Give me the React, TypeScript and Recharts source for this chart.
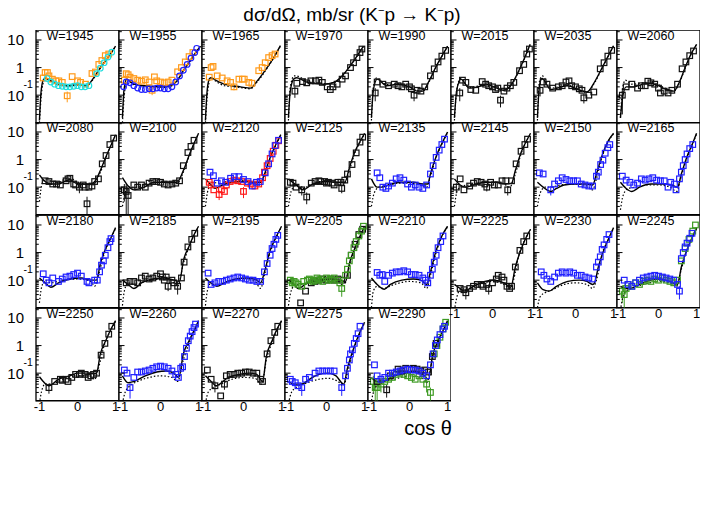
import { ComposedChart, Line, Scatter, XAxis, YAxis, ErrorBar, ReferenceArea } from "recharts";

// ---- data: [cos theta, dsigma/dOmega (mb/sr), error] ----
const solid1945 = [[-1, 0.012], [-0.96, 0.12], [-0.9, 0.35], [-0.84, 0.42], [-0.7, 0.33], [-0.5, 0.24], [-0.25, 0.22], [0, 0.24], [0.25, 0.22], [0.4, 0.38], [0.6, 1.0], [0.8, 2.3], [1, 6]];
const dot1945 = [[-1, 0.01], [-0.95, 0.1], [-0.88, 0.32], [-0.82, 0.38], [-0.7, 0.32], [-0.5, 0.23], [-0.25, 0.21], [0, 0.23], [0.25, 0.22], [0.4, 0.36], [0.6, 0.95], [0.8, 2.2], [1, 5.8]];
const orange1945 = [[-0.9, 0.42], [-0.85, 0.66], [-0.79, 0.66], [-0.75, 0.5], [-0.66, 0.38], [-0.57, 0.33], [-0.49, 0.33], [-0.4, 0.29], [-0.27, 0.095, 0.04], [-0.14, 0.47], [0, 0.33], [0.08, 0.29], [0.21, 0.25], [0.38, 0.61], [0.47, 0.69], [0.56, 1.3], [0.64, 1.8], [0.73, 2.7], [0.82, 3.1]];
const cyan1945 = [[-0.8, 0.4], [-0.7, 0.3], [-0.6, 0.25], [-0.5, 0.22], [-0.4, 0.21], [-0.3, 0.2], [-0.2, 0.2], [-0.1, 0.21], [0, 0.22], [0.1, 0.2], [0.2, 0.2], [0.3, 0.22], [0.5, 0.6], [0.6, 0.95], [0.7, 1.5], [0.8, 2.4], [0.9, 3.6]];

const solid1955 = [[-1, 0.015], [-0.96, 0.15], [-0.89, 0.38], [-0.8, 0.32], [-0.7, 0.25], [-0.43, 0.22], [0, 0.2], [0.26, 0.22], [0.43, 0.33], [0.6, 0.77], [0.78, 1.8], [0.96, 4.1], [1.05, 6]];
const dot1955 = [[-1, 0.01], [-0.95, 0.1], [-0.88, 0.33], [-0.8, 0.3], [-0.7, 0.24], [-0.43, 0.21], [0, 0.19], [0.26, 0.21], [0.43, 0.31], [0.6, 0.72], [0.78, 1.7], [0.96, 4], [1.05, 5.8]];
const orange1955 = [[-0.95, 0.35], [-0.9, 0.6], [-0.85, 0.55], [-0.8, 0.45], [-0.7, 0.4], [-0.6, 0.35], [-0.5, 0.32], [-0.4, 0.36], [-0.3, 0.3], [-0.22, 0.15, 0.05], [-0.16, 0.46], [-0.1, 0.33], [0, 0.3], [0.1, 0.28], [0.2, 0.3], [0.3, 0.35], [0.45, 0.7], [0.55, 1.0], [0.65, 1.6], [0.75, 2.5], [0.85, 3.5]];
const blue1955 = [[-0.97, 0.2], [-0.9, 0.3], [-0.8, 0.28], [-0.7, 0.22], [-0.6, 0.18], [-0.5, 0.16], [-0.4, 0.16], [-0.3, 0.17], [-0.2, 0.17], [-0.1, 0.18], [0, 0.18], [0.1, 0.17], [0.2, 0.17], [0.3, 0.2], [0.4, 0.3], [0.5, 0.5], [0.6, 0.8], [0.7, 1.3], [0.8, 2.2], [0.9, 3.5], [0.95, 5]];

const solid1965 = [[-1, 0.012], [-0.96, 0.12], [-0.9, 0.38], [-0.86, 0.43], [-0.7, 0.33], [-0.51, 0.25], [-0.08, 0.2], [0.18, 0.18], [0.36, 0.33], [0.62, 1.0], [0.8, 2.4], [0.97, 6.2]];
const dot1965 = [[-1, 0.01], [-0.95, 0.1], [-0.88, 0.36], [-0.84, 0.4], [-0.7, 0.3], [-0.5, 0.22], [-0.08, 0.19], [0.18, 0.17], [0.36, 0.3], [0.62, 0.95], [0.8, 2.3], [0.97, 6]];
const orange1965 = [[-0.9, 0.45], [-0.85, 1.0], [-0.8, 1.1], [-0.69, 0.5], [-0.56, 0.42], [-0.43, 0.33], [-0.34, 0.29], [-0.25, 0.2, 0.05], [-0.12, 0.38], [-0.03, 0.38], [0.02, 0.38], [0.14, 0.29], [0.22, 0.27], [0.4, 0.77], [0.49, 1.0], [0.57, 1.5], [0.66, 2.3], [0.75, 2.7], [0.83, 3.1]];

const solid1970 = [[-1, 0.015], [-0.95, 0.15], [-0.85, 0.4], [-0.78, 0.43], [-0.5, 0.29], [-0.07, 0.25], [0.19, 0.29], [0.37, 0.44], [0.63, 1.2], [0.8, 2.6], [0.97, 6]];
const dot1970 = [[-1, 0.012], [-0.95, 0.2], [-0.85, 0.5], [-0.8, 0.5], [-0.5, 0.32], [-0.07, 0.26], [0.19, 0.28], [0.37, 0.42], [0.63, 1.15], [0.8, 2.5], [0.97, 5.8]];
const black1970 = [[-0.83, 0.14, 0.06], [-0.78, 0.27], [-0.63, 0.31], [-0.52, 0.28], [-0.41, 0.33], [-0.29, 0.33], [-0.2, 0.35], [-0.11, 0.29], [0.02, 0.2], [0.1, 0.16], [0.17, 0.2], [0.28, 0.25], [0.41, 0.38], [0.5, 0.5], [0.63, 1.0], [0.71, 1.5], [0.8, 2.3], [0.88, 3.5], [0.93, 4.7]];

const solid1990 = [[-1, 0.015], [-0.95, 0.15], [-0.85, 0.38], [-0.6, 0.22], [-0.3, 0.25], [0, 0.2], [0.2, 0.14], [0.35, 0.14], [0.5, 0.3], [0.7, 1.1], [0.85, 2.6], [1, 6]];
const dot1990 = [[-1, 0.012], [-0.95, 0.2], [-0.86, 0.42], [-0.6, 0.24], [-0.3, 0.26], [0, 0.2], [0.2, 0.15], [0.35, 0.14], [0.5, 0.28], [0.7, 1.05], [0.85, 2.5], [1, 5.8]];
const black1990 = [[-0.9, 0.12, 0.06], [-0.85, 0.3], [-0.7, 0.25], [-0.55, 0.22], [-0.4, 0.25], [-0.3, 0.22], [-0.2, 0.2], [-0.1, 0.25], [0, 0.2], [0.05, 0.17], [0.12, 0.1, 0.04], [0.2, 0.15], [0.3, 0.14], [0.4, 0.2], [0.55, 0.5], [0.65, 0.9], [0.75, 1.6], [0.85, 2.6], [0.95, 4.2]];

const solid2015 = [[-1, 0.015], [-0.94, 0.15], [-0.83, 0.38], [-0.61, 0.18], [-0.27, 0.22], [-0.14, 0.24], [0.12, 0.18], [0.3, 0.15], [0.47, 0.22], [0.73, 1.0], [0.99, 7]];
const dot2015 = [[-1, 0.012], [-0.94, 0.15], [-0.84, 0.4], [-0.61, 0.19], [-0.27, 0.23], [-0.14, 0.24], [0.12, 0.18], [0.3, 0.15], [0.47, 0.21], [0.73, 0.95], [0.99, 6.8]];
const black2015 = [[-0.86, 0.12, 0.06], [-0.79, 0.35], [-0.7, 0.29], [-0.57, 0.16], [-0.44, 0.15], [-0.27, 0.31], [-0.18, 0.25], [-0.1, 0.22], [0, 0.2], [0.08, 0.16], [0.14, 0.18], [0.21, 0.066, 0.03], [0.3, 0.14], [0.38, 0.18], [0.47, 0.22], [0.56, 0.29], [0.71, 0.77], [0.82, 1.3], [0.9, 3.1], [0.97, 4.7]];

const solid2035 = [[-1, 0.015], [-0.95, 0.2], [-0.88, 0.4], [-0.65, 0.16], [-0.22, 0.22], [0.13, 0.15], [0.3, 0.13], [0.5, 0.3], [0.7, 1.0], [0.85, 2.5], [1, 6.2]];
const dot2035 = [[-1, 0.012], [-0.95, 0.3], [-0.87, 0.5], [-0.65, 0.18], [-0.22, 0.23], [0.13, 0.15], [0.3, 0.13], [0.5, 0.28], [0.7, 0.95], [0.85, 2.4], [1, 6]];
const black2035 = [[-0.93, 0.15, 0.06], [-0.85, 0.3], [-0.75, 0.25], [-0.6, 0.18], [-0.45, 0.2], [-0.35, 0.22], [-0.25, 0.3], [-0.17, 0.33], [-0.1, 0.22], [0, 0.2], [0.1, 0.17], [0.17, 0.15], [0.22, 0.08, 0.03], [0.35, 0.1], [0.48, 0.13], [0.65, 0.9], [0.75, 1.5], [0.85, 2.6], [0.95, 4.2]];

const solid2060 = [[-1, 0.015], [-0.95, 0.07], [-0.85, 0.2], [-0.65, 0.2], [-0.4, 0.25], [-0.2, 0.27], [0, 0.22], [0.2, 0.16], [0.4, 0.14], [0.55, 0.3], [0.7, 1.0], [0.85, 3], [1, 7]];
const dot2060 = [[-1, 0.015], [-0.95, 0.15], [-0.87, 0.35], [-0.7, 0.25], [-0.4, 0.28], [-0.2, 0.3], [0, 0.24], [0.2, 0.17], [0.4, 0.14], [0.55, 0.28], [0.7, 0.95], [0.85, 2.9], [1, 6.8]];
const black2060 = [[-0.95, 0.1, 0.08], [-0.85, 0.2], [-0.7, 0.25], [-0.55, 0.18], [-0.45, 0.22], [-0.35, 0.22], [-0.28, 0.32], [-0.2, 0.28], [-0.1, 0.25], [0, 0.18], [0.05, 0.12], [0.15, 0.14], [0.25, 0.12], [0.35, 0.15], [0.5, 0.25], [0.62, 0.9], [0.72, 1.6], [0.82, 2.7], [0.92, 4]];

const solid2080 = [[-1, 0.28], [-0.85, 0.16], [-0.7, 0.13], [-0.5, 0.13], [-0.3, 0.17], [-0.2, 0.19], [-0.05, 0.14], [0.15, 0.13], [0.35, 0.13], [0.5, 0.2], [0.6, 0.4], [0.75, 1.3], [0.9, 3.8], [1, 8]];
const dot2080 = [[-1, 0.03], [-0.92, 0.15], [-0.8, 0.2], [-0.65, 0.16], [-0.5, 0.15], [-0.3, 0.2], [-0.15, 0.2], [0, 0.15], [0.2, 0.13], [0.4, 0.12], [0.5, 0.18], [0.65, 0.5], [0.8, 1.8], [1, 8]];
const black2080 = [[-0.85, 0.17], [-0.75, 0.16], [-0.65, 0.13], [-0.55, 0.13], [-0.45, 0.12], [-0.3, 0.17], [-0.25, 0.2], [-0.2, 0.21], [-0.1, 0.13], [-0.05, 0.12], [0.05, 0.1, 0.04], [0.15, 0.12], [0.2, 0.1], [0.25, 0.025, 0.02], [0.3, 0.1], [0.38, 0.11], [0.45, 0.16], [0.55, 0.2], [0.65, 0.7], [0.75, 1.4], [0.85, 3.5], [0.95, 6]];

const solid2100 = [[-1, 0.22], [-0.85, 0.11], [-0.7, 0.08], [-0.43, 0.1], [-0.17, 0.15], [0.17, 0.15], [0.43, 0.15], [0.6, 0.4], [0.78, 1.8], [1, 9]];
const dot2100 = [[-1, 0.02], [-0.93, 0.06], [-0.85, 0.1], [-0.7, 0.1], [-0.45, 0.12], [-0.2, 0.18], [0, 0.17], [0.3, 0.13], [0.45, 0.14], [0.6, 0.35], [0.78, 1.7], [1, 9]];
const black2100 = [[-0.95, 0.08, 0.05], [-0.9, 0.07, 0.06], [-0.85, 0.05, 0.045], [-0.7, 0.12], [-0.6, 0.1], [-0.5, 0.12], [-0.4, 0.1], [-0.3, 0.14], [-0.2, 0.16], [-0.1, 0.16], [0, 0.15], [0.1, 0.13], [0.2, 0.12], [0.3, 0.13], [0.4, 0.14], [0.5, 0.17], [0.6, 0.6], [0.72, 1.8], [0.8, 3], [0.88, 5]];

const solid2120 = [[-1, 0.2], [-0.85, 0.12], [-0.75, 0.09], [-0.55, 0.12], [-0.3, 0.15], [0, 0.16], [0.3, 0.15], [0.45, 0.15], [0.55, 0.3], [0.7, 1.2], [0.85, 3.5], [0.98, 8]];
const dot2120 = [[-1, 0.02], [-0.93, 0.08], [-0.8, 0.15], [-0.6, 0.13], [-0.4, 0.17], [-0.1, 0.18], [0.2, 0.15], [0.42, 0.12], [0.55, 0.25], [0.7, 1.1], [0.85, 3.3], [0.98, 7.5]];
const blue2120 = [[-0.88, 0.35], [-0.79, 0.26], [-0.69, 0.14], [-0.58, 0.17], [-0.47, 0.15], [-0.34, 0.21], [-0.24, 0.24], [-0.12, 0.24], [0, 0.19], [0.12, 0.16], [0.23, 0.11], [0.34, 0.15], [0.44, 0.16], [0.57, 0.33], [0.66, 0.7], [0.75, 1.6], [0.83, 3.2], [0.92, 5]];
const red2120 = [[-0.9, 0.15], [-0.85, 0.12], [-0.78, 0.08], [-0.64, 0.054, 0.02], [-0.58, 0.08], [-0.5, 0.07], [-0.45, 0.12], [-0.35, 0.16], [-0.25, 0.18], [-0.15, 0.17], [-0.05, 0.16], [0, 0.07, 0.03], [0.1, 0.14], [0.2, 0.13], [0.3, 0.11], [0.4, 0.13], [0.5, 0.22], [0.55, 0.35], [0.62, 0.6], [0.7, 1.1], [0.78, 2], [0.85, 3.3], [0.92, 4.8]];

const solid2125 = [[-1, 0.2], [-0.8, 0.12], [-0.62, 0.08], [-0.4, 0.12], [-0.2, 0.15], [0, 0.16], [0.3, 0.15], [0.48, 0.15], [0.6, 0.5], [0.75, 2], [0.9, 5], [1, 9]];
const dot2125 = [[-1, 0.02], [-0.93, 0.07], [-0.8, 0.12], [-0.62, 0.09], [-0.4, 0.13], [-0.2, 0.16], [0, 0.16], [0.3, 0.14], [0.45, 0.12], [0.6, 0.4], [0.75, 1.8], [0.9, 4.8], [1, 8.5]];
const black2125 = [[-0.95, 0.15], [-0.88, 0.14], [-0.8, 0.1], [-0.65, 0.08, 0.03], [-0.52, 0.044, 0.02], [-0.4, 0.14], [-0.3, 0.16], [-0.2, 0.17], [-0.15, 0.16], [-0.05, 0.16], [0, 0.14], [0.05, 0.15], [0.15, 0.14], [0.2, 0.12], [0.3, 0.15], [0.38, 0.15], [0.4, 0.09, 0.03], [0.48, 0.18], [0.55, 0.3], [0.67, 0.66], [0.78, 1.75], [0.88, 4.3], [0.95, 6.5]];

const solid2135 = [[-1, 0.2], [-0.85, 0.1], [-0.7, 0.1], [-0.5, 0.13], [-0.2, 0.15], [0.1, 0.15], [0.35, 0.13], [0.48, 0.13], [0.55, 0.3], [0.7, 1.3], [0.85, 3.8], [1, 10]];
const dot2135 = [[-1, 0.02], [-0.93, 0.06], [-0.8, 0.1], [-0.6, 0.11], [-0.3, 0.14], [0, 0.14], [0.3, 0.12], [0.45, 0.1], [0.55, 0.25], [0.7, 1.2], [0.85, 3.6], [1, 9.5]];
const blue2135 = [[-0.85, 0.33], [-0.78, 0.22], [-0.7, 0.1], [-0.62, 0.09], [-0.55, 0.11], [-0.45, 0.14], [-0.35, 0.2], [-0.25, 0.22], [-0.15, 0.18], [-0.05, 0.13], [0.05, 0.1], [0.15, 0.12], [0.25, 0.1], [0.35, 0.09], [0.45, 0.12], [0.55, 0.3], [0.62, 0.6], [0.7, 1.2], [0.78, 2.2], [0.85, 3.5], [0.92, 5.5]];

const solid2145 = [[-1, 0.2], [-0.85, 0.12], [-0.7, 0.1], [-0.5, 0.12], [-0.2, 0.15], [0.1, 0.15], [0.35, 0.13], [0.5, 0.14], [0.6, 0.4], [0.75, 1.8], [0.9, 5], [1, 9]];
const dot2145 = [[-1, 0.02], [-0.93, 0.07], [-0.8, 0.11], [-0.6, 0.12], [-0.3, 0.15], [0, 0.15], [0.3, 0.13], [0.45, 0.1], [0.6, 0.3], [0.75, 1.6], [0.9, 4.8], [1, 8.5]];
const black2145 = [[-0.95, 0.1, 0.04], [-0.85, 0.2], [-0.75, 0.08], [-0.6, 0.11], [-0.5, 0.14], [-0.4, 0.16], [-0.3, 0.15], [-0.2, 0.13], [-0.15, 0.1, 0.03], [-0.05, 0.15], [0.05, 0.12], [0.15, 0.12], [0.25, 0.17], [0.35, 0.17], [0.4, 0.08, 0.03], [0.5, 0.17], [0.62, 0.7], [0.75, 2], [0.85, 3.5], [0.92, 5.5]];

const solid2150 = [[-1, 0.15], [-0.85, 0.1], [-0.65, 0.07], [-0.5, 0.09], [-0.3, 0.12], [0, 0.13], [0.3, 0.13], [0.45, 0.12], [0.55, 0.3], [0.68, 1.2], [0.85, 4.5], [1, 9]];
const dot2150 = [[-1, 0.02], [-0.93, 0.06], [-0.8, 0.1], [-0.65, 0.1], [-0.4, 0.12], [0, 0.13], [0.3, 0.11], [0.45, 0.08], [0.55, 0.2], [0.68, 1.0], [0.85, 4.2], [1, 8.5]];
const blue2150 = [[-0.95, 0.33], [-0.85, 0.3], [-0.65, 0.08, 0.03], [-0.55, 0.13], [-0.45, 0.17], [-0.35, 0.22], [-0.25, 0.19], [-0.15, 0.17], [-0.05, 0.17], [0.05, 0.17], [0.15, 0.13], [0.25, 0.12], [0.35, 0.11], [0.45, 0.11], [0.55, 0.25], [0.6, 0.35], [0.66, 0.66], [0.72, 0.95], [0.78, 1.7], [0.85, 2.7], [0.9, 3.5]];

const solid2165 = [[-1, 0.15], [-0.85, 0.09], [-0.7, 0.07], [-0.5, 0.1], [-0.2, 0.13], [0.1, 0.13], [0.35, 0.12], [0.5, 0.1], [0.6, 0.3], [0.75, 1.3], [0.9, 4], [1, 9]];
const dot2165 = [[-1, 0.015], [-0.93, 0.05], [-0.8, 0.09], [-0.6, 0.1], [-0.3, 0.12], [0, 0.12], [0.3, 0.1], [0.48, 0.07], [0.6, 0.25], [0.75, 1.2], [0.9, 3.8], [1, 8.5]];
const blue2165 = [[-0.95, 0.25], [-0.85, 0.18], [-0.75, 0.15], [-0.65, 0.12], [-0.55, 0.14], [-0.45, 0.2], [-0.35, 0.18], [-0.25, 0.2], [-0.15, 0.22], [-0.05, 0.18], [0.05, 0.17], [0.15, 0.17], [0.25, 0.1], [0.32, 0.15], [0.42, 0.13], [0.46, 0.08], [0.55, 0.2], [0.6, 0.35], [0.65, 0.6], [0.7, 1], [0.75, 1.6], [0.82, 2.5], [0.9, 3.5]];

const solid2180 = [[-1, 0.12], [-0.85, 0.08], [-0.7, 0.055], [-0.5, 0.08], [-0.2, 0.11], [0.1, 0.12], [0.35, 0.1], [0.5, 0.1], [0.6, 0.4], [0.75, 1.5], [0.9, 4], [1, 8]];
const dot2180 = [[-1, 0.015], [-0.95, 0.05], [-0.85, 0.1], [-0.7, 0.08], [-0.4, 0.1], [0, 0.11], [0.35, 0.09], [0.45, 0.06], [0.55, 0.15], [0.7, 0.9], [0.9, 3.8], [1, 7.5]];
const blue2180 = [[-0.9, 0.17], [-0.82, 0.1], [-0.75, 0.08], [-0.65, 0.12], [-0.5, 0.09], [-0.4, 0.11], [-0.3, 0.13], [-0.2, 0.14], [-0.1, 0.16], [0, 0.18], [0.1, 0.14], [0.25, 0.09], [0.3, 0.08], [0.45, 0.1], [0.52, 0.1], [0.58, 0.2], [0.63, 0.35], [0.68, 0.5], [0.73, 0.8], [0.8, 1.5], [0.85, 2.5], [0.88, 3.2]];

const solid2185 = [[-1, 0.1], [-0.85, 0.07], [-0.7, 0.05], [-0.5, 0.08], [-0.2, 0.11], [0.1, 0.12], [0.35, 0.1], [0.5, 0.09], [0.6, 0.5], [0.75, 1.7], [0.9, 5], [1, 9]];
const dot2185 = [[-1, 0.012], [-0.95, 0.04], [-0.85, 0.08], [-0.7, 0.07], [-0.4, 0.09], [0, 0.11], [0.3, 0.09], [0.45, 0.06], [0.6, 0.4], [0.75, 1.6], [0.9, 4.8], [1, 8.5]];
const black2185 = [[-0.9, 0.08], [-0.8, 0.09], [-0.7, 0.09], [-0.6, 0.08], [-0.5, 0.12], [-0.4, 0.14], [-0.3, 0.11], [-0.2, 0.12], [-0.1, 0.14], [0, 0.17], [0.05, 0.13], [0.1, 0.1], [0.15, 0.13], [0.2, 0.06, 0.02], [0.3, 0.1], [0.35, 0.08], [0.45, 0.06, 0.03], [0.55, 0.12], [0.62, 0.45], [0.72, 1.6], [0.82, 3], [0.9, 5]];

const solid2195 = [[-1, 0.12], [-0.8, 0.07], [-0.7, 0.06], [-0.5, 0.08], [-0.2, 0.11], [0.1, 0.12], [0.35, 0.1], [0.45, 0.08], [0.55, 0.2], [0.7, 1.2], [0.85, 3.5], [1, 9]];
const dot2195 = [[-1, 0.012], [-0.95, 0.04], [-0.85, 0.08], [-0.7, 0.07], [-0.4, 0.09], [0, 0.11], [0.3, 0.09], [0.45, 0.05], [0.55, 0.15], [0.7, 1.0], [0.85, 3.3], [1, 8.5]];
const blue2195 = [[-0.93, 0.18], [-0.85, 0.07], [-0.75, 0.08], [-0.65, 0.09], [-0.55, 0.09], [-0.45, 0.1], [-0.35, 0.11], [-0.25, 0.12], [-0.15, 0.13], [-0.05, 0.12], [0.05, 0.11], [0.15, 0.1], [0.25, 0.1], [0.35, 0.09], [0.45, 0.09], [0.55, 0.2], [0.62, 0.4], [0.7, 0.8], [0.75, 1.4], [0.8, 2], [0.85, 3], [0.9, 4.2]];

const solid2205 = [[-1, 0.1], [-0.85, 0.07], [-0.75, 0.05], [-0.5, 0.08], [-0.2, 0.1], [0.1, 0.11], [0.35, 0.1], [0.5, 0.09], [0.6, 0.4], [0.75, 1.5], [0.9, 4.5], [1, 9]];
const dot2205 = [[-1, 0.012], [-0.93, 0.04], [-0.8, 0.07], [-0.6, 0.07], [-0.3, 0.09], [0, 0.1], [0.3, 0.09], [0.45, 0.06], [0.6, 0.3], [0.75, 1.4], [0.9, 4.3], [1, 8.5]];
const green2205 = [[-0.95, 0.1, 0.03], [-0.9, 0.08, 0.03], [-0.85, 0.09], [-0.8, 0.08], [-0.75, 0.07], [-0.65, 0.06], [-0.6, 0.09], [-0.5, 0.1], [-0.45, 0.11], [-0.4, 0.1], [-0.35, 0.09], [-0.3, 0.1], [-0.25, 0.12], [-0.2, 0.1], [-0.15, 0.11], [-0.1, 0.09], [0, 0.12], [0.05, 0.1], [0.1, 0.11], [0.15, 0.1], [0.2, 0.12], [0.3, 0.1], [0.35, 0.08], [0.4, 0.05, 0.025], [0.5, 0.15], [0.55, 0.25], [0.6, 0.5], [0.65, 0.8], [0.72, 1.5], [0.78, 2.5], [0.85, 4], [0.92, 6], [0.97, 9]];
const black2205 = [[-0.68, 0.015], [-0.55, 0.04], [-0.4, 0.08], [-0.3, 0.09], [-0.2, 0.1], [-0.1, 0.11], [0, 0.1], [0.1, 0.11], [0.2, 0.1], [0.3, 0.11], [0.4, 0.1], [0.55, 0.15], [0.65, 0.8], [0.75, 2], [0.85, 4.5], [0.95, 7]];

const solid2210 = [[-1, 0.12], [-0.85, 0.07], [-0.66, 0.047], [-0.5, 0.07], [-0.2, 0.1], [0.1, 0.11], [0.3, 0.1], [0.45, 0.07], [0.55, 0.2], [0.7, 1.2], [0.85, 4], [1, 9]];
const dot2210 = [[-1, 0.01], [-0.95, 0.04], [-0.85, 0.06], [-0.7, 0.05], [-0.4, 0.07], [0, 0.09], [0.3, 0.08], [0.45, 0.05], [0.55, 0.15], [0.7, 1.0], [0.85, 3.8], [1, 8.5]];
const blue2210 = [[-0.85, 0.19], [-0.78, 0.15], [-0.72, 0.16], [-0.65, 0.09], [-0.55, 0.15], [-0.45, 0.18], [-0.35, 0.2], [-0.25, 0.2], [-0.15, 0.22], [-0.05, 0.2], [0.05, 0.16], [0.15, 0.16], [0.25, 0.15], [0.35, 0.12], [0.42, 0.1], [0.48, 0.08], [0.55, 0.15], [0.6, 0.25], [0.65, 0.45], [0.7, 0.8], [0.75, 1.5], [0.82, 2.5], [0.88, 4]];

const solid2225 = [[-1, 0.07], [-0.85, 0.05], [-0.75, 0.04], [-0.5, 0.06], [-0.2, 0.09], [0.05, 0.1], [0.3, 0.08], [0.48, 0.055], [0.6, 0.3], [0.75, 1.3], [0.9, 4], [1, 7]];
const dot2225 = [[-1, 0.008], [-0.95, 0.02], [-0.85, 0.045], [-0.7, 0.05], [-0.4, 0.07], [0, 0.09], [0.3, 0.07], [0.45, 0.05], [0.55, 0.1], [0.7, 0.9], [0.9, 3.8], [1, 6.8]];
const black2225 = [[-0.85, 0.05], [-0.75, 0.045], [-0.7, 0.035, 0.015], [-0.6, 0.05], [-0.5, 0.06], [-0.4, 0.07], [-0.3, 0.07], [-0.25, 0.06], [-0.15, 0.07], [-0.1, 0.05, 0.02], [0, 0.08], [0.1, 0.11], [0.15, 0.15], [0.25, 0.13], [0.3, 0.1], [0.38, 0.06], [0.45, 0.05], [0.5, 0.06], [0.6, 0.3], [0.72, 1.2], [0.82, 2.5], [0.9, 4]];

const solid2230 = [[-1, 0.08], [-0.85, 0.045], [-0.7, 0.04], [-0.5, 0.06], [-0.2, 0.09], [0.1, 0.1], [0.3, 0.09], [0.45, 0.07], [0.5, 0.08], [0.6, 0.3], [0.75, 1.3], [0.9, 4], [1, 8]];
const dot2230 = [[-1, 0.01], [-0.93, 0.025], [-0.8, 0.035], [-0.6, 0.045], [-0.3, 0.07], [0, 0.08], [0.3, 0.07], [0.45, 0.05], [0.55, 0.1], [0.7, 0.9], [0.9, 3.8], [1, 7.5]];
const blue2230 = [[-0.9, 0.2], [-0.83, 0.15], [-0.75, 0.11], [-0.65, 0.09], [-0.55, 0.13], [-0.45, 0.18], [-0.35, 0.2], [-0.25, 0.18], [-0.15, 0.2], [-0.05, 0.18], [0.05, 0.15], [0.15, 0.15], [0.25, 0.13], [0.35, 0.12], [0.45, 0.11], [0.55, 0.3], [0.6, 0.45], [0.65, 0.7], [0.7, 1.3], [0.75, 1.9], [0.82, 3], [0.88, 4.5]];

const solid2245 = [[-1, 0.06], [-0.85, 0.05], [-0.75, 0.05], [-0.5, 0.07], [-0.2, 0.1], [0.05, 0.11], [0.3, 0.09], [0.5, 0.07], [0.6, 0.3], [0.75, 1.3], [0.9, 4], [1, 8]];
const dot2245 = [[-1, 0.008], [-0.95, 0.02], [-0.85, 0.04], [-0.7, 0.05], [-0.4, 0.07], [0, 0.09], [0.3, 0.08], [0.48, 0.06], [0.6, 0.25], [0.75, 1.2], [0.9, 3.8], [1, 7]];
const blue2245 = [[-0.9, 0.1], [-0.8, 0.07], [-0.7, 0.06], [-0.6, 0.08], [-0.5, 0.1], [-0.4, 0.12], [-0.3, 0.13], [-0.2, 0.14], [-0.1, 0.15], [0, 0.14], [0.1, 0.13], [0.2, 0.12], [0.3, 0.11], [0.4, 0.1], [0.5, 0.07], [0.55, 0.04, 0.02], [0.6, 0.6], [0.65, 1], [0.7, 1.6], [0.75, 2.2], [0.82, 3.3], [0.88, 5]];
const green2245 = [[-0.95, 0.04, 0.025], [-0.9, 0.03, 0.02], [-0.85, 0.05], [-0.8, 0.07], [-0.7, 0.06], [-0.6, 0.08], [-0.5, 0.07], [-0.4, 0.09], [-0.3, 0.1], [-0.2, 0.09], [-0.1, 0.11], [0, 0.1], [0.1, 0.12], [0.2, 0.1], [0.3, 0.09], [0.4, 0.08], [0.5, 0.1], [0.6, 0.5], [0.7, 1.4], [0.8, 3], [0.9, 6], [0.97, 10]];

const solid2250 = [[-1, 0.074], [-0.9, 0.05], [-0.75, 0.035], [-0.5, 0.06], [-0.2, 0.08], [0, 0.1], [0.3, 0.1], [0.45, 0.095], [0.5, 0.1], [0.6, 0.5], [0.75, 1.6], [0.9, 4.5], [1, 8]];
const dot2250 = [[-1, 0.008], [-0.95, 0.02], [-0.85, 0.04], [-0.7, 0.04], [-0.4, 0.06], [0, 0.08], [0.3, 0.08], [0.45, 0.06], [0.55, 0.15], [0.7, 1.0], [0.9, 4.2], [1, 7.5]];
const black2250 = [[-0.75, 0.03, 0.012], [-0.6, 0.05], [-0.45, 0.06], [-0.4, 0.055], [-0.3, 0.06], [-0.25, 0.05], [-0.15, 0.07], [-0.05, 0.09], [0.05, 0.09], [0.1, 0.1], [0.2, 0.09], [0.28, 0.07], [0.35, 0.08], [0.42, 0.09], [0.5, 0.1], [0.62, 0.45], [0.72, 1.2], [0.82, 2.6], [0.9, 5]];

const solid2260 = [[-1, 0.08], [-0.85, 0.045], [-0.7, 0.05], [-0.4, 0.08], [-0.1, 0.11], [0.15, 0.12], [0.35, 0.1], [0.48, 0.07], [0.6, 0.5], [0.75, 1.5], [0.9, 4], [1, 8]];
const dot2260 = [[-1, 0.008], [-0.93, 0.02], [-0.8, 0.035], [-0.6, 0.05], [-0.3, 0.07], [0, 0.08], [0.3, 0.07], [0.45, 0.05], [0.6, 0.3], [0.75, 1.2], [0.9, 3.5], [1, 7]];
const blue2260 = [[-0.95, 0.13], [-0.88, 0.1], [-0.8, 0.03, 0.018], [-0.7, 0.07], [-0.6, 0.11], [-0.5, 0.11], [-0.4, 0.12], [-0.3, 0.13], [-0.2, 0.15], [-0.1, 0.17], [0, 0.18], [0.1, 0.17], [0.2, 0.15], [0.3, 0.12], [0.4, 0.09], [0.47, 0.07], [0.53, 0.15], [0.58, 0.17], [0.63, 0.4], [0.68, 0.8], [0.73, 1.5], [0.78, 2.2], [0.83, 3.2], [0.88, 4.5], [0.92, 6]];

const solid2270 = [[-1, 0.08], [-0.85, 0.05], [-0.72, 0.035], [-0.4, 0.07], [-0.1, 0.09], [0.15, 0.1], [0.35, 0.09], [0.5, 0.05], [0.6, 0.4], [0.75, 1.5], [0.9, 4.5], [1, 8]];
const dot2270 = [[-1, 0.008], [-0.93, 0.02], [-0.8, 0.03], [-0.6, 0.04], [-0.3, 0.06], [0, 0.07], [0.3, 0.065], [0.48, 0.04], [0.6, 0.3], [0.75, 1.3], [0.9, 4.2], [1, 7.5]];
const black2270 = [[-0.95, 0.13], [-0.85, 0.06], [-0.75, 0.035, 0.015], [-0.6, 0.015], [-0.5, 0.04, 0.015], [-0.45, 0.08], [-0.35, 0.09], [-0.25, 0.09], [-0.15, 0.1], [-0.05, 0.1], [0.05, 0.11], [0.15, 0.11], [0.25, 0.1], [0.35, 0.1], [0.45, 0.06], [0.5, 0.05], [0.62, 0.5], [0.72, 1.5], [0.82, 3], [0.9, 5]];

const solid2275 = [[-1, 0.05], [-0.85, 0.04], [-0.65, 0.04], [-0.45, 0.06], [-0.2, 0.09], [0.05, 0.1], [0.25, 0.08], [0.45, 0.04], [0.55, 0.15], [0.7, 0.7], [0.85, 2.5], [1, 7]];
const dot2275 = [[-1, 0.008], [-0.92, 0.02], [-0.8, 0.03], [-0.5, 0.045], [-0.2, 0.06], [0.05, 0.065], [0.3, 0.05], [0.45, 0.035], [0.55, 0.1], [0.7, 0.6], [0.85, 2.3], [1, 6.5]];
const blue2275 = [[-0.95, 0.06], [-0.9, 0.05], [-0.82, 0.045], [-0.75, 0.035], [-0.65, 0.03, 0.015], [-0.55, 0.06], [-0.45, 0.07], [-0.3, 0.1], [-0.2, 0.12], [-0.1, 0.12], [0, 0.12], [0.1, 0.12], [0.2, 0.12], [0.4, 0.03, 0.015], [0.5, 0.08], [0.55, 0.15], [0.6, 0.3], [0.63, 0.5], [0.68, 0.7], [0.73, 1.2], [0.78, 1.8], [0.83, 2.7], [0.88, 5]];

const solid2290 = [[-1, 0.07], [-0.85, 0.05], [-0.7, 0.05], [-0.4, 0.08], [-0.1, 0.1], [0.15, 0.11], [0.35, 0.09], [0.5, 0.06], [0.6, 0.4], [0.75, 1.5], [0.9, 4], [1, 8]];
const dot2290 = [[-1, 0.01], [-0.9, 0.03], [-0.7, 0.045], [-0.4, 0.06], [0, 0.08], [0.3, 0.07], [0.45, 0.045], [0.6, 0.3], [0.75, 1.3], [0.9, 3.8], [1, 7.5]];
const blue2290 = [[-0.92, 0.2], [-0.85, 0.08], [-0.75, 0.06], [-0.65, 0.07], [-0.55, 0.1], [-0.45, 0.1], [-0.35, 0.11], [-0.25, 0.12], [-0.15, 0.13], [-0.05, 0.14], [0.05, 0.13], [0.15, 0.13], [0.25, 0.12], [0.35, 0.1], [0.45, 0.08], [0.55, 0.2], [0.62, 0.5], [0.68, 1], [0.73, 1.6], [0.8, 2.5], [0.88, 4], [0.92, 5]];
const black2290 = [[-0.85, 0.05], [-0.6, 0.025, 0.012], [-0.5, 0.08], [-0.3, 0.14], [-0.2, 0.12], [-0.1, 0.15], [0, 0.14], [0.1, 0.15], [0.2, 0.14], [0.3, 0.12], [0.4, 0.13], [0.5, 0.11], [0.6, 0.4], [0.7, 1.2]];
const green2290 = [[-0.95, 0.05, 0.03], [-0.9, 0.03, 0.02], [-0.85, 0.03, 0.02], [-0.75, 0.04, 0.02], [-0.65, 0.05], [-0.55, 0.06], [-0.45, 0.07], [-0.35, 0.09], [-0.25, 0.1], [-0.15, 0.09], [-0.05, 0.08], [0.05, 0.07], [0.15, 0.06], [0.25, 0.08], [0.35, 0.06], [0.45, 0.04, 0.02], [0.55, 0.02, 0.01], [0.65, 0.5], [0.72, 1], [0.8, 2], [0.88, 4], [0.95, 7]];

// ---- axes ----
const xMajor = [-1, 0, 1];
const xTicks = [-1, -0.8, -0.6, -0.4, -0.2, 0, 0.2, 0.4, 0.6, 0.8, 1];
const yTicks = [0.01, 0.02, 0.03, 0.04, 0.05, 0.06, 0.07, 0.08, 0.09, 0.1, 0.2, 0.3, 0.4, 0.5, 0.6, 0.7, 0.8, 0.9, 1, 2, 3, 4, 5, 6, 7, 8, 9, 10, 20];
const yLabels = [0.1, 1, 10];

const X_DOM: [number, number] = [-1.09, 1.09];
const Y_DOM: [number, number] = [0.01, 23];

const FONT = "'Liberation Sans', Arial, Helvetica, sans-serif";
const ORANGE = "#ff9a1a";
const CYAN = "#22dede";
const BLUE = "#2020ff";
const RED = "#ff1a1a";
const GREEN = "#3d9a22";
const BLACK = "#111111";

type Kind = "sq" | "ci";
type SetCfg = [number[][], string, Kind];
type PanelCfg = { w: number; solid: number[][]; dotted: number[][]; sets: SetCfg[] };

const panels: PanelCfg[] = [
  { w: 1945, solid: solid1945, dotted: dot1945, sets: [[orange1945, ORANGE, "sq"], [cyan1945, CYAN, "ci"]] },
  { w: 1955, solid: solid1955, dotted: dot1955, sets: [[orange1955, ORANGE, "sq"], [blue1955, BLUE, "ci"]] },
  { w: 1965, solid: solid1965, dotted: dot1965, sets: [[orange1965, ORANGE, "sq"]] },
  { w: 1970, solid: solid1970, dotted: dot1970, sets: [[black1970, BLACK, "sq"]] },
  { w: 1990, solid: solid1990, dotted: dot1990, sets: [[black1990, BLACK, "sq"]] },
  { w: 2015, solid: solid2015, dotted: dot2015, sets: [[black2015, BLACK, "sq"]] },
  { w: 2035, solid: solid2035, dotted: dot2035, sets: [[black2035, BLACK, "sq"]] },
  { w: 2060, solid: solid2060, dotted: dot2060, sets: [[black2060, BLACK, "sq"]] },
  { w: 2080, solid: solid2080, dotted: dot2080, sets: [[black2080, BLACK, "sq"]] },
  { w: 2100, solid: solid2100, dotted: dot2100, sets: [[black2100, BLACK, "sq"]] },
  { w: 2120, solid: solid2120, dotted: dot2120, sets: [[red2120, RED, "sq"], [blue2120, BLUE, "sq"]] },
  { w: 2125, solid: solid2125, dotted: dot2125, sets: [[black2125, BLACK, "sq"]] },
  { w: 2135, solid: solid2135, dotted: dot2135, sets: [[blue2135, BLUE, "sq"]] },
  { w: 2145, solid: solid2145, dotted: dot2145, sets: [[black2145, BLACK, "sq"]] },
  { w: 2150, solid: solid2150, dotted: dot2150, sets: [[blue2150, BLUE, "sq"]] },
  { w: 2165, solid: solid2165, dotted: dot2165, sets: [[blue2165, BLUE, "sq"]] },
  { w: 2180, solid: solid2180, dotted: dot2180, sets: [[blue2180, BLUE, "sq"]] },
  { w: 2185, solid: solid2185, dotted: dot2185, sets: [[black2185, BLACK, "sq"]] },
  { w: 2195, solid: solid2195, dotted: dot2195, sets: [[blue2195, BLUE, "sq"]] },
  { w: 2205, solid: solid2205, dotted: dot2205, sets: [[black2205, BLACK, "sq"], [green2205, GREEN, "sq"]] },
  { w: 2210, solid: solid2210, dotted: dot2210, sets: [[blue2210, BLUE, "sq"]] },
  { w: 2225, solid: solid2225, dotted: dot2225, sets: [[black2225, BLACK, "sq"]] },
  { w: 2230, solid: solid2230, dotted: dot2230, sets: [[blue2230, BLUE, "sq"]] },
  { w: 2245, solid: solid2245, dotted: dot2245, sets: [[green2245, GREEN, "sq"], [blue2245, BLUE, "sq"]] },
  { w: 2250, solid: solid2250, dotted: dot2250, sets: [[black2250, BLACK, "sq"]] },
  { w: 2260, solid: solid2260, dotted: dot2260, sets: [[blue2260, BLUE, "sq"]] },
  { w: 2270, solid: solid2270, dotted: dot2270, sets: [[black2270, BLACK, "sq"]] },
  { w: 2275, solid: solid2275, dotted: dot2275, sets: [[blue2275, BLUE, "sq"]] },
  { w: 2290, solid: solid2290, dotted: dot2290, sets: [[green2290, GREEN, "sq"], [black2290, BLACK, "sq"], [blue2290, BLUE, "sq"]] },
];

// panel geometry
const X0 = 35.5;
const T0 = 29.5;
const PW = 83;
const PH = 92.75;
const LABW = 36;
const LABH = 22;

const toLine = (a: number[][]) => a.map(([x, y]) => ({ x, y }));
const toPts = (a: number[][]) =>
  a.map(([x, y, e = 0]) => ({ x, y, e: [Math.max(0, Math.min(e, y - 0.0101)), e] }));

const marker = (color: string, kind: Kind) => (p: any) =>
  kind === "ci" ? (
    <circle cx={p.cx} cy={p.cy} r={2.8} fill="none" stroke={color} strokeWidth={1.2} />
  ) : (
    <rect x={p.cx - 2.8} y={p.cy - 2.8} width={5.6} height={5.6} fill="none" stroke={color} strokeWidth={1.2} />
  );

const isDecade = (v: number) => yLabels.includes(v) || v === 0.01;

// inward tick marks drawn by the mirrored axes
const YMark = (props: any) => {
  const { x, y, payload } = props;
  const len = isDecade(payload.value) ? 5.5 : 2.8;
  return <line x1={x} x2={x + len} y1={y} y2={y} stroke="#000" strokeWidth={1} />;
};
const XMark = (props: any) => {
  const { x, y, payload } = props;
  const len = xMajor.includes(payload.value) ? 5.5 : 2.8;
  return <line x1={x} x2={x} y1={y} y2={y - len} stroke="#000" strokeWidth={1} />;
};

const YTick = (props: any) => {
  const { x, y, payload } = props;
  const v = payload.value;
  if (v === 0.1) {
    return (
      <g fontFamily={FONT} fill="#000">
        <text x={x} y={y} dy={5.5} textAnchor="end" fontSize={15}>10</text>
        <text x={x - 0.5} y={y - 7} textAnchor="start" fontSize={10.5}>-1</text>
      </g>
    );
  }
  return (
    <text x={x} y={y} dy={5.5} textAnchor="end" fontSize={15} fontFamily={FONT} fill="#000">
      {v}
    </text>
  );
};

const Panel = ({ p, idx }: { p: PanelCfg; idx: number }) => {
  const col = idx % 8;
  const row = Math.floor(idx / 8);
  const showX = row === 3 || (row === 2 && col >= 5);
  const showY = col === 0;
  return (
    <div style={{ position: "absolute", left: X0 + col * PW - LABW, top: T0 + row * PH }}>
      <ComposedChart width={LABW + PW} height={PH + LABH} margin={{ top: 0, right: 0, bottom: 0, left: 0 }}>
        <XAxis
          xAxisId="tk"
          type="number"
          domain={X_DOM}
          allowDataOverflow
          ticks={xTicks}
          interval={0}
          mirror
          height={1}
          axisLine={false}
          tickLine={false}
          tickSize={0}
          tickMargin={0}
          tick={<XMark />}
        />
        <XAxis
          xAxisId="x"
          dataKey="x"
          type="number"
          domain={X_DOM}
          allowDataOverflow
          ticks={xMajor}
          interval={0}
          height={LABH}
          axisLine={false}
          tickLine={false}
          tickSize={0}
          tickMargin={1}
          tick={showX ? { fontSize: 13, fill: "#000", fontFamily: FONT } : false}
        />
        <YAxis
          yAxisId="tk"
          type="number"
          scale="log"
          domain={Y_DOM}
          allowDataOverflow
          ticks={yTicks}
          interval={0}
          mirror
          width={1}
          axisLine={false}
          tickLine={false}
          tickSize={0}
          tickMargin={0}
          tick={<YMark />}
        />
        <YAxis
          yAxisId="y"
          dataKey="y"
          type="number"
          scale="log"
          domain={Y_DOM}
          allowDataOverflow
          ticks={yLabels}
          interval={0}
          width={LABW}
          axisLine={false}
          tickLine={false}
          tickSize={0}
          tickMargin={12}
          tick={showY ? <YTick /> : false}
        />
        <ReferenceArea xAxisId="x" yAxisId="y" x1={X_DOM[0]} x2={X_DOM[1]} y1={Y_DOM[0]} y2={Y_DOM[1]} fill="none" stroke="#000" strokeWidth={1.3} />
        {p.sets.map(([pts, color, kind], i) => (
          <Scatter
            key={i}
            xAxisId="x"
            yAxisId="y"
            data={toPts(pts)}
            shape={marker(color, kind)}
            isAnimationActive={false}
          >
            <ErrorBar dataKey="e" direction="y" width={0} stroke={color} strokeWidth={1} />
          </Scatter>
        ))}
        <Line
          xAxisId="x"
          yAxisId="y"
          data={toLine(p.dotted)}
          dataKey="y"
          type="monotone"
          stroke="#000"
          strokeWidth={1.2}
          strokeDasharray="1.5 2"
          dot={false}
          isAnimationActive={false}
        />
        <Line
          xAxisId="x"
          yAxisId="y"
          data={toLine(p.solid)}
          dataKey="y"
          type="monotone"
          stroke="#000"
          strokeWidth={1.4}
          dot={false}
          isAnimationActive={false}
        />
      </ComposedChart>
    </div>
  );
};

export default function App() {
  return (
    <div style={{ position: "absolute", left: 0, top: 0, width: 706, height: 529, background: "#fff" }}>
      {panels.map((p, i) => (
        <Panel key={p.w} p={p} idx={i} />
      ))}
      <svg width={706} height={529} style={{ position: "absolute", left: 0, top: 0, pointerEvents: "none" }}>
        <text x={352} y={21} textAnchor="middle" fontSize={19} fontFamily={FONT} fill="#000">
          dσ/dΩ, mb/sr (K
          <tspan dy={-7} fontSize={11}>−</tspan>
          <tspan dy={7}>p → K</tspan>
          <tspan dy={-7} fontSize={11}>−</tspan>
          <tspan dy={7}>p)</tspan>
        </text>
        {panels.map((p, i) => (
          <text
            key={p.w}
            x={X0 + (i % 8) * PW + 11}
            y={T0 + Math.floor(i / 8) * PH + 10}
            fontSize={12.5}
            fontFamily={FONT}
            fill="#000"
          >
            W={p.w}
          </text>
        ))}
        <text x={452} y={435} textAnchor="end" fontSize={20} fontFamily={FONT} fill="#000">
          cos θ
        </text>
      </svg>
    </div>
  );
}
